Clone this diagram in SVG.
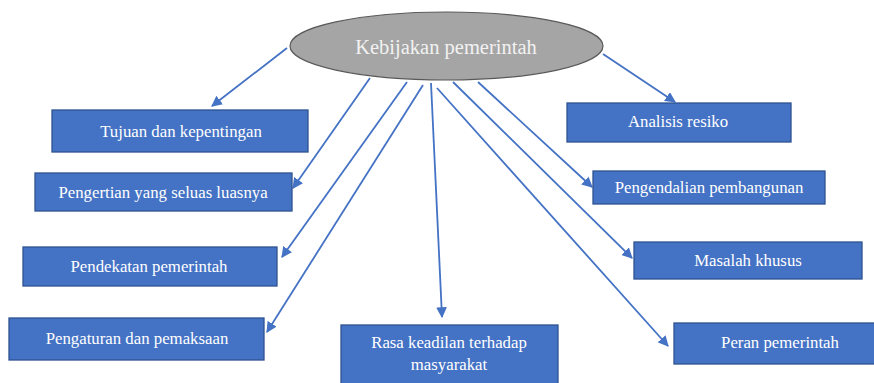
<svg xmlns="http://www.w3.org/2000/svg" width="874" height="383" viewBox="0 0 874 383">
<defs>
<style>
.box{fill:#4472c4;stroke:#2f528f;stroke-width:1.3}
.t{font-family:'Liberation Serif','Times New Roman',serif;font-size:16.8px;fill:#ffffff;text-anchor:middle}
.c{stroke:#4472c4;stroke-width:1.8;fill:none;marker-end:url(#ah)}
</style>
<marker id="ah" viewBox="0 0 10 10" refX="9" refY="5" markerWidth="6" markerHeight="6" markerUnits="strokeWidth" orient="auto">
<path d="M0,0 L10,5 L0,10 z" fill="#4472c4"/>
</marker>
</defs>
<rect width="874" height="383" fill="#ffffff"/>
<g id="connectors">
<line class="c" x1="287" y1="48" x2="212" y2="106"/>
<line class="c" x1="603" y1="54" x2="675" y2="102"/>
<line class="c" x1="370" y1="78" x2="293" y2="188"/>
<line class="c" x1="407" y1="82" x2="282" y2="257"/>
<line class="c" x1="423" y1="85" x2="267" y2="332"/>
<line class="c" x1="431" y1="83" x2="442" y2="317"/>
<line class="c" x1="437" y1="88" x2="668" y2="346"/>
<line class="c" x1="453" y1="82" x2="632" y2="258"/>
<line class="c" x1="478" y1="82" x2="592" y2="187"/>
</g>
<g id="center">
<ellipse cx="446.5" cy="46" rx="156.5" ry="34" fill="#a5a5a5" stroke="#595959" stroke-width="1.2"/>
<text class="t" x="446" y="54" style="font-size:20.5px;fill:#f2f2f2">Kebijakan pemerintah</text>
</g>
<g id="n-tujuan">
<rect class="box" x="52" y="110" width="256" height="42"/>
<text class="t" x="181" y="137">Tujuan dan kepentingan</text>
</g>
<g id="n-pengertian">
<rect class="box" x="35" y="173" width="257" height="38"/>
<text class="t" x="163" y="198">Pengertian yang seluas luasnya</text>
</g>
<g id="n-pendekatan">
<rect class="box" x="23" y="247" width="254" height="39"/>
<text class="t" x="149" y="272">Pendekatan pemerintah</text>
</g>
<g id="n-pengaturan">
<rect class="box" x="9" y="318" width="255" height="42"/>
<text class="t" x="137" y="344">Pengaturan dan pemaksaan</text>
</g>
<g id="n-rasa">
<rect class="box" x="341" y="325" width="217" height="64"/>
<text class="t" x="449" y="348">Rasa keadilan terhadap</text>
<text class="t" x="449" y="370">masyarakat</text>
</g>
<g id="n-analisis">
<rect class="box" x="567" y="103" width="224" height="39"/>
<text class="t" x="678" y="127">Analisis resiko</text>
</g>
<g id="n-pengendalian">
<rect class="box" x="593" y="171" width="232" height="33"/>
<text class="t" x="709" y="193">Pengendalian pembangunan</text>
</g>
<g id="n-masalah">
<rect class="box" x="634" y="242" width="228" height="37"/>
<text class="t" x="748" y="266">Masalah khusus</text>
</g>
<g id="n-peran">
<rect class="box" x="674" y="323" width="205" height="41"/>
<text class="t" x="780" y="348">Peran pemerintah</text>
</g>
</svg>
